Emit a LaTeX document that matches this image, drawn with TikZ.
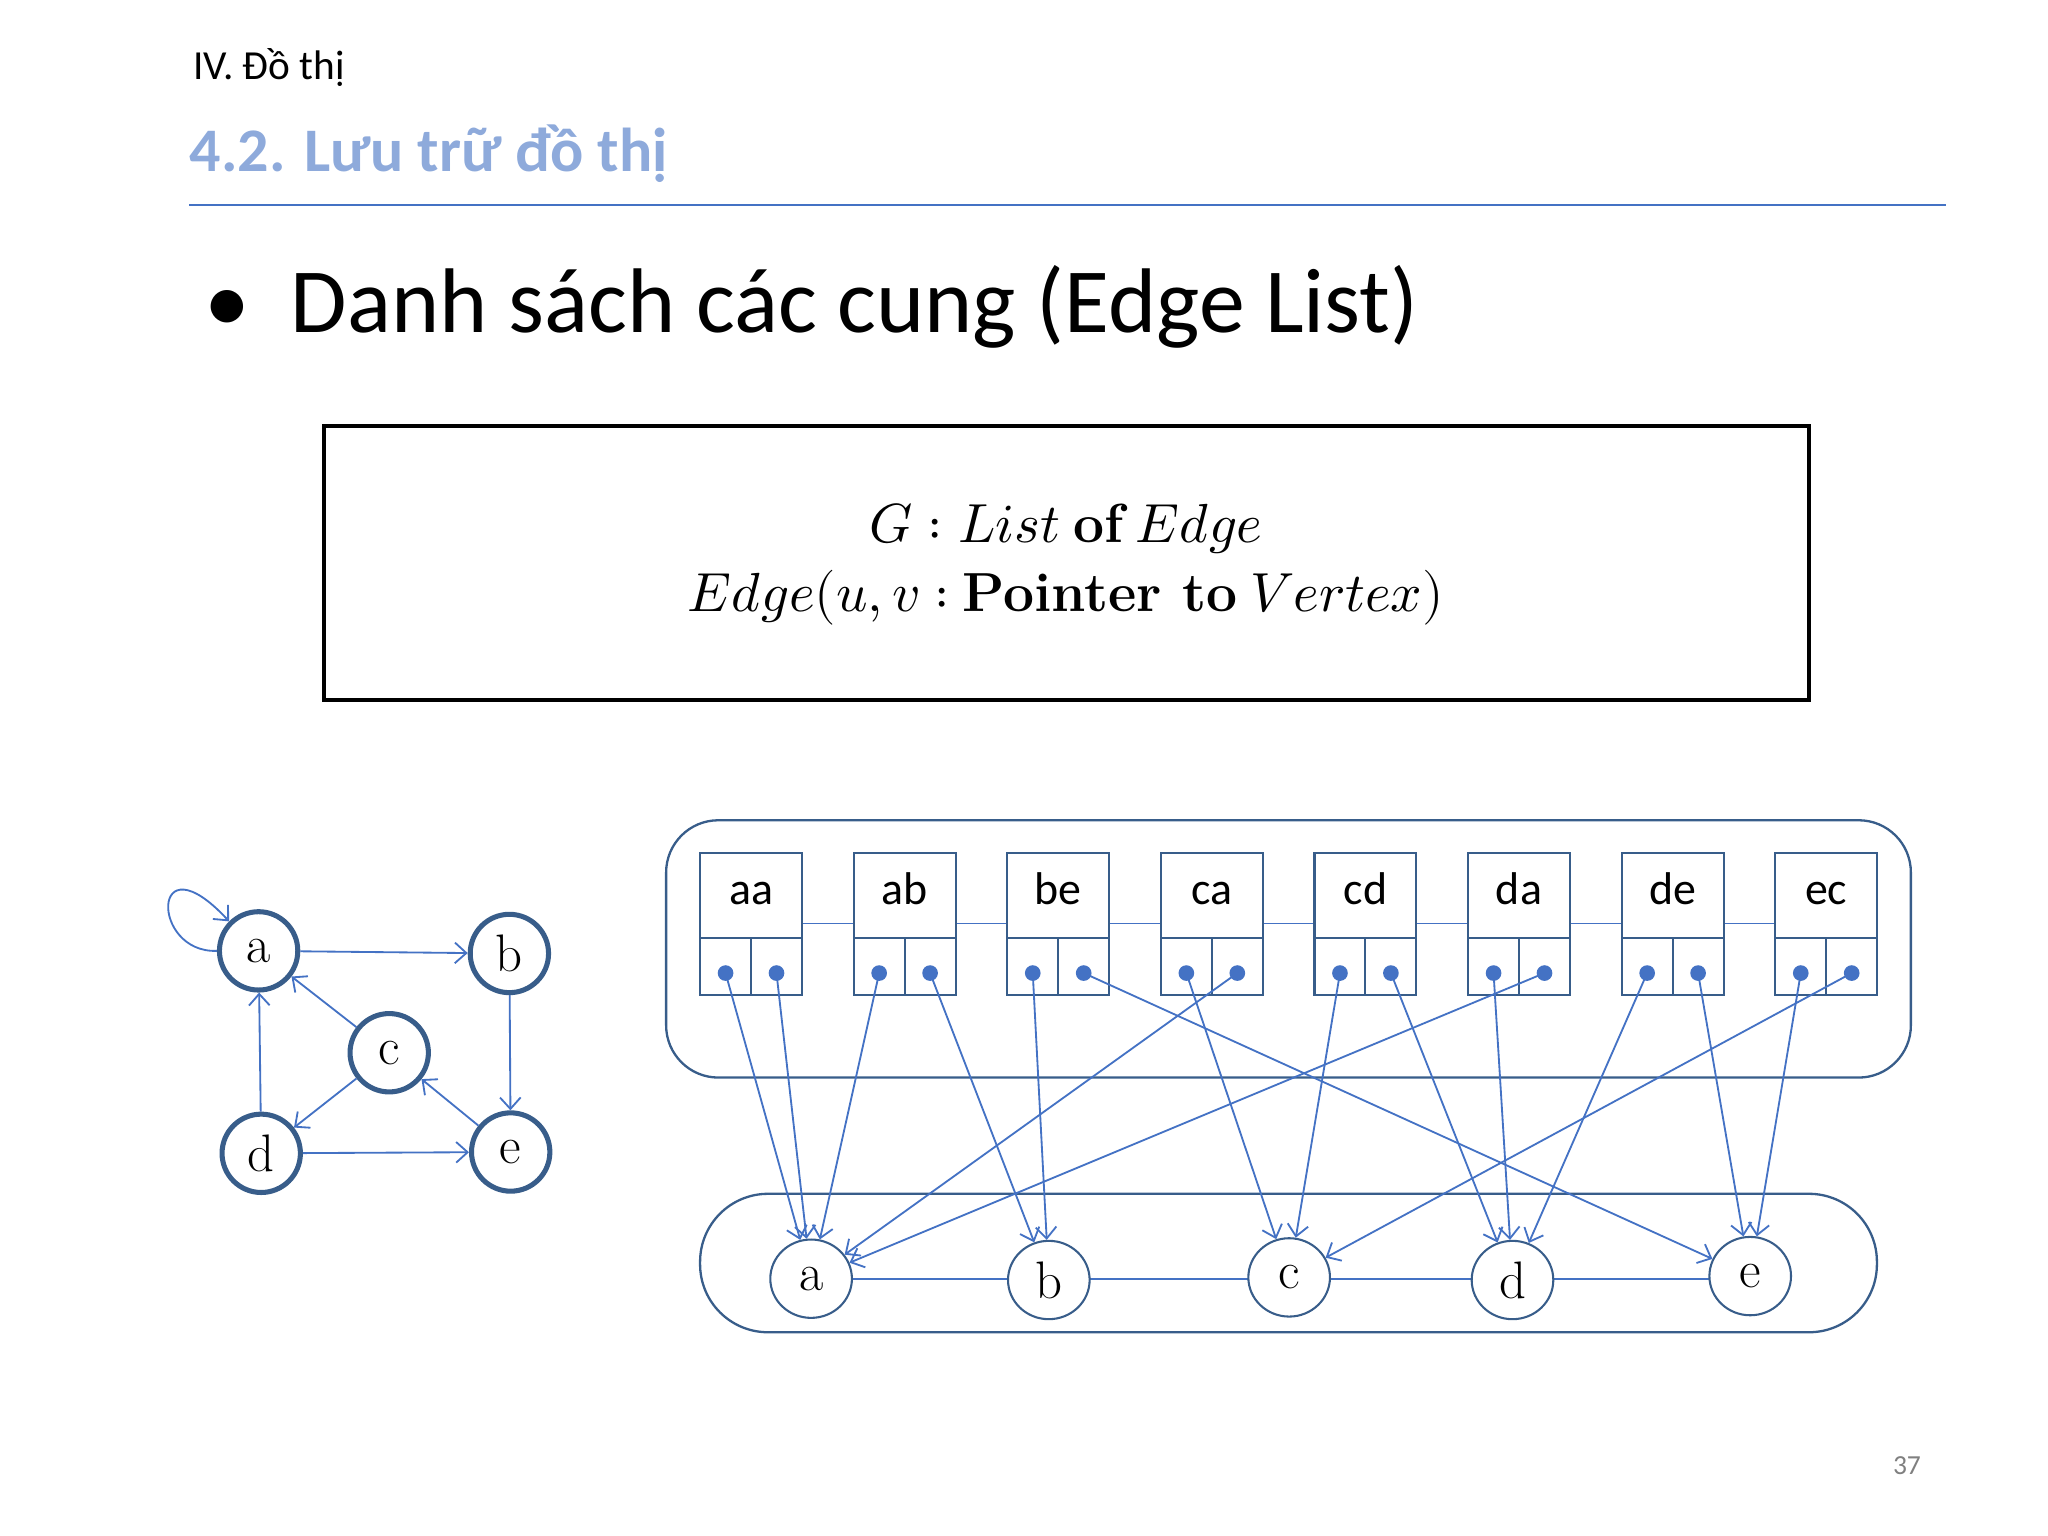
\documentclass[tikz,border=0pt]{standalone}
\usepackage{fontspec}
\setmainfont{Carlito}
\newfontfamily\serifrm{Latin Modern Roman}
\usepackage{unicode-math}
\setmathfont{Latin Modern Math}
\usetikzlibrary{arrows.meta,shapes.geometric}
\definecolor{edgeblue}{RGB}{68,114,196}
\definecolor{darkblue}{RGB}{56,93,138}
\definecolor{titleblue}{RGB}{142,170,219}

\begin{document}
\begin{tikzpicture}
    [ x=.02cm, y=-.02cm,
      vertex/.style={circle, draw=darkblue, line width=2.2pt, minimum size=1.2cm,
                     inner sep=0pt, font=\serifrm\fontsize{23}{23}\selectfont},
      svertex/.style={ellipse, draw=darkblue, line width=.9pt, fill=white, minimum width=1.25cm,
                      minimum height=1.2cm, inner sep=0pt, font=\serifrm\fontsize{23}{23}\selectfont},
      cell/.style={draw=darkblue, line width=.9pt, fill=white, minimum width=1.56cm,
                   minimum height=1.3cm, inner sep=0pt, text height=1.7ex, text depth=0pt,
                   font=\fontsize{20}{20}\selectfont},
      half/.style={draw=darkblue, line width=.9pt, fill=white, minimum width=.78cm,
                   minimum height=.88cm, inner sep=0pt},
      dot/.style={circle, fill=edgeblue, minimum size=.24cm, inner sep=0pt},
      arc/.style={edgeblue, line width=.8pt, -{Straight Barb[length=5pt,width=9pt]}},
    ]
    \useasboundingbox (0,0) rectangle (1568,1176);

    % slide header
    \node[anchor=west, font=\fontsize{18}{18}\selectfont] (hdr) at (142,52) {IV. Đồ thị};
    \node[anchor=west, text=titleblue, font=\bfseries\fontsize{27}{27}\selectfont] (ttl) at (139,118) {4.2. Lưu trữ đồ thị};
    \draw[edgeblue, line width=1pt] (145,157) -- (1490,157);
    \node[anchor=west, font=\fontsize{40}{40}\selectfont] (bul) at (150,235) {•\hspace{.45em}Danh sách các cung (Edge List)};

    % declaration box
    \draw[line width=2pt] (248,326) rectangle (1385,536);
    \node[font=\fontsize{24}{30}\selectfont, align=center] (decl) at (816,432)
        {$G : List$ {\serifrm\bfseries of} $Edge$\\
         $Edge(u,v :$ {\serifrm\bfseries Pointer to} $Vertex)$};

    % small graph
    \foreach \n/\x/\y in {a/198/728, b/390/730, c/298/806, d/200/883, e/391/882}
        \node[vertex] (g\n) at (\x,\y) {\n};
    \draw[arc] (ga) -- (gb);
    \draw[arc] (gb) -- (ge);
    \draw[arc] (gd) -- (ge);
    \draw[arc] (gd) -- (ga);
    \draw[arc] (gc) -- (ga);
    \draw[arc] (gc) -- (gd);
    \draw[arc] (ge) -- (gc);
    \draw[arc] (ga.west) .. controls (115,730) and (115,640) .. (ga.north west);

    % edge list
    \draw[darkblue, line width=1pt, rounded corners=.8cm] (510,628) rectangle (1463,825);
    \draw[darkblue, line width=1pt, rounded corners=1.04cm] (536,914) rectangle (1437,1020);
    \draw[edgeblue, line width=.8pt] (575,707) -- (1398,707);
    \draw[edgeblue, line width=.8pt] (621,979) -- (1340,979);
    \foreach \e [count=\i from 0] in {aa,ab,be,ca,cd,da,de,ec} {
        \node[cell] (\e) at ({575+117.6*\i},685.5) {\e};
        \node[half] (\e l) at ({555.5+117.6*\i},740) {};
        \node[half] (\e r) at ({594.5+117.6*\i},740) {};
        \node[dot] (\e1) at ({555.5+117.6*\i},745) {};
        \node[dot] (\e2) at ({594.5+117.6*\i},745) {};
    }
    \foreach \n/\x/\y in {a/621/979, b/803/980, c/987/978, d/1158/980, e/1340/977}
        \node[svertex] (v\n) at (\x,\y) {\n};
    \foreach \s/\t in {aa1/a, aa2/a, ab1/a, ab2/b, be1/b, be2/e, ca1/c, ca2/a,
                       cd1/c, cd2/d, da1/d, da2/a, de1/d, de2/e, ec1/e, ec2/c}
        \draw[arc] (\s.center) -- (v\t);

    \node[text=gray, font=\fontsize{12}{12}\selectfont] (pg) at (1460,1122) {37};
\end{tikzpicture}
\end{document}
